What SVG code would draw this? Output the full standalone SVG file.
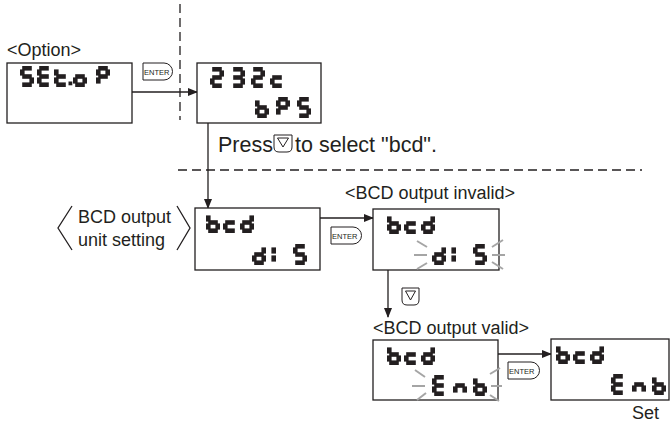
<svg xmlns="http://www.w3.org/2000/svg" xmlns:xlink="http://www.w3.org/1999/xlink" width="671" height="424" viewBox="0 0 671 424">
<style>
.box{fill:#fff;stroke:#231f20;stroke-width:1.3}
.ln{fill:none;stroke:#231f20;stroke-width:1.3}
.dash{fill:none;stroke:#231f20;stroke-width:1.3;stroke-dasharray:9 5}
.seg{stroke:#231f20;stroke-width:4.6;stroke-linecap:butt}
.glow{stroke:#a5a5a5;stroke-width:2}
.t{font-family:"Liberation Sans",Arial,sans-serif;font-size:18px;fill:#231f20}
.tl{font-family:"Liberation Sans",Arial,sans-serif;font-size:21.5px;fill:#231f20}
.k{font-family:"Liberation Sans",Arial,sans-serif;font-size:7.5px;fill:#231f20}
.key{fill:#fff;stroke:#231f20;stroke-width:1}
</style>
<defs>
<marker id="ah" markerWidth="10" markerHeight="8" refX="9" refY="4" orient="auto" markerUnits="userSpaceOnUse">
<path d="M0,0 L10,4 L0,8 Z" fill="#231f20"/>
</marker>
<line id="sa" class="seg" x1="2.2" y1="2.3" x2="11.8" y2="2.3"/>
<line id="sb" class="seg" x1="11.7" y1="3.4" x2="11.7" y2="9.6"/>
<line id="sc" class="seg" x1="11.7" y1="11.4" x2="11.7" y2="17.6"/>
<line id="sd" class="seg" x1="2.2" y1="18.7" x2="11.8" y2="18.7"/>
<line id="se" class="seg" x1="2.3" y1="11.4" x2="2.3" y2="17.6"/>
<line id="sf" class="seg" x1="2.3" y1="3.4" x2="2.3" y2="9.6"/>
<line id="sg" class="seg" x1="2.2" y1="10.5" x2="11.8" y2="10.5"/>
<g id="c-S"><use href="#sa"/><use href="#sf"/><use href="#sg"/><use href="#sc"/><use href="#sd"/></g>
<g id="c-E"><use href="#sa"/><use href="#sf"/><use href="#sg"/><use href="#se"/><use href="#sd"/></g>
<g id="c-t"><use href="#sf"/><use href="#sg"/><use href="#se"/><use href="#sd"/></g>
<g id="c-o"><use href="#sg"/><use href="#sc"/><use href="#sd"/><use href="#se"/></g>
<g id="c-P"><use href="#sa"/><use href="#sb"/><use href="#sf"/><use href="#sg"/><use href="#se"/></g>
<g id="c-2"><use href="#sa"/><use href="#sb"/><use href="#sg"/><use href="#se"/><use href="#sd"/></g>
<g id="c-3"><use href="#sa"/><use href="#sb"/><use href="#sg"/><use href="#sc"/><use href="#sd"/></g>
<g id="c-c"><use href="#sg"/><use href="#se"/><use href="#sd"/></g>
<g id="c-b"><use href="#sf"/><use href="#se"/><use href="#sd"/><use href="#sc"/><use href="#sg"/></g>
<g id="c-d"><use href="#sb"/><use href="#sc"/><use href="#sd"/><use href="#se"/><use href="#sg"/></g>
<g id="c-1"><use href="#sb"/><use href="#sc"/></g>
<g id="c-n"><use href="#sg"/><use href="#sc"/><use href="#se"/></g>
<rect id="c-dot" x="0" y="0" width="3.8" height="3.8" fill="#231f20"/>
</defs>

<g id="separators">
<line class="dash" x1="180" y1="4" x2="180" y2="120"/>
<line class="dash" x1="178" y1="170" x2="642" y2="170"/>
</g>

<g id="connectors">
<line class="ln" x1="132" y1="92" x2="197" y2="92" marker-end="url(#ah)"/>
<line class="ln" x1="208" y1="123" x2="208" y2="208" marker-end="url(#ah)"/>
<line class="ln" x1="320" y1="218" x2="373" y2="218" marker-end="url(#ah)"/>
<line class="ln" x1="388" y1="270" x2="388" y2="317" marker-end="url(#ah)"/>
<line class="ln" x1="498" y1="354" x2="551" y2="354" marker-end="url(#ah)"/>
</g>

<g id="key-enter-1">
<path class="key" d="M143,63 H164 A8.5,8.5 0 0 1 164,80 H143 Z"/>
<text class="k" x="144" y="74.5">ENTER</text>
</g>
<g id="key-enter-2">
<path class="key" d="M331,227 H353 A8.5,8.5 0 0 1 353,244 H331 Z"/>
<text class="k" x="332" y="238.5">ENTER</text>
</g>
<g id="key-enter-3">
<path class="key" d="M508,362 H531 A8.5,8.5 0 0 1 531,379 H508 Z"/>
<text class="k" x="509" y="373.5">ENTER</text>
</g>
<g id="key-down">
<path class="key" d="M402,288 H419 V300 Q419,305 414,305 H407 Q402,305 402,300 Z"/>
<path class="key" d="M405.5,291 H415.5 L410.5,300 Z"/>
</g>

<g id="labels">
<text class="t" x="7" y="56">&lt;Option&gt;</text>
<text class="tl" x="218" y="152">Press</text>
<path class="key" d="M274,135 H292 V147 Q292,152 287,152 H279 Q274,152 274,147 Z"/>
<path class="key" d="M277.5,138 H288.5 L283,147 Z"/>
<text class="tl" x="295" y="152">to select "bcd".</text>
<text class="t" x="345" y="199">&lt;BCD output invalid&gt;</text>
<text class="t" x="373" y="334">&lt;BCD output valid&gt;</text>
<text class="t" x="632" y="419">Set</text>
</g>

<g id="unit-setting-label">
<polyline class="ln" points="72,206 58,228 72,250"/>
<polyline class="ln" points="177,206 190,228 177,250"/>
<text class="t" x="78" y="223">BCD output</text>
<text class="t" x="78" y="246">unit setting</text>
</g>

<g id="node-setop">
<rect class="box" x="7" y="63" width="125" height="60"/>
<use href="#c-S" x="20" y="66"/>
<use href="#c-E" x="37" y="66"/>
<use href="#c-t" x="54" y="66"/>
<use href="#c-dot" x="68.5" y="81.5"/>
<use href="#c-o" x="73" y="66"/>
<use href="#c-P" x="96" y="66"/>
</g>

<g id="node-232c">
<rect class="box" x="197" y="63" width="124" height="60"/>
<use href="#c-2" x="210" y="67"/>
<use href="#c-3" x="231" y="67"/>
<use href="#c-2" x="251" y="67"/>
<use href="#c-c" x="270" y="67"/>
<use href="#c-b" x="255" y="97"/>
<use href="#c-P" x="276" y="97"/>
<use href="#c-S" x="297" y="97"/>
</g>

<g id="node-bcd-dis">
<rect class="box" x="195" y="208" width="125" height="62"/>
<use href="#c-b" x="206" y="212"/>
<use href="#c-c" x="223" y="212"/>
<use href="#c-d" x="240" y="212"/>
<use href="#c-d" x="252" y="244"/>
<use href="#c-1" x="262" y="244"/>
<use href="#c-S" x="293" y="244"/>
</g>

<g id="node-bcd-invalid">
<rect class="box" x="373" y="209" width="126" height="61"/>
<use href="#c-b" x="387" y="213"/>
<use href="#c-c" x="404" y="213"/>
<use href="#c-d" x="421" y="213"/>
<use href="#c-d" x="432" y="244"/>
<use href="#c-1" x="442" y="244"/>
<use href="#c-S" x="473" y="244"/>
<line class="glow" x1="417" y1="241" x2="427" y2="247"/>
<line class="glow" x1="414" y1="255" x2="427" y2="255"/>
<line class="glow" x1="417" y1="269" x2="427" y2="263"/>
<line class="glow" x1="492" y1="247" x2="503" y2="240"/>
<line class="glow" x1="492" y1="255" x2="505" y2="255"/>
<line class="glow" x1="492" y1="262" x2="503" y2="269"/>
</g>

<g id="node-bcd-valid">
<rect class="box" x="373" y="340" width="125" height="60"/>
<use href="#c-b" x="387" y="344"/>
<use href="#c-c" x="404" y="344"/>
<use href="#c-d" x="421" y="344"/>
<use href="#c-E" x="432" y="375"/>
<use href="#c-n" x="453" y="375"/>
<use href="#c-b" x="473" y="375"/>
<line class="glow" x1="415" y1="370" x2="425" y2="377"/>
<line class="glow" x1="412" y1="386" x2="425" y2="386"/>
<line class="glow" x1="417" y1="400" x2="426" y2="393"/>
<line class="glow" x1="490" y1="374" x2="500" y2="368"/>
<line class="glow" x1="491" y1="386" x2="502" y2="386"/>
<line class="glow" x1="490" y1="395" x2="499" y2="401"/>
</g>

<g id="node-set">
<rect class="box" x="551" y="339" width="118" height="61"/>
<use href="#c-b" x="556" y="343"/>
<use href="#c-c" x="573" y="343"/>
<use href="#c-d" x="590" y="343"/>
<use href="#c-E" x="611" y="374"/>
<use href="#c-n" x="632" y="374"/>
<use href="#c-b" x="652" y="374"/>
</g>
</svg>
